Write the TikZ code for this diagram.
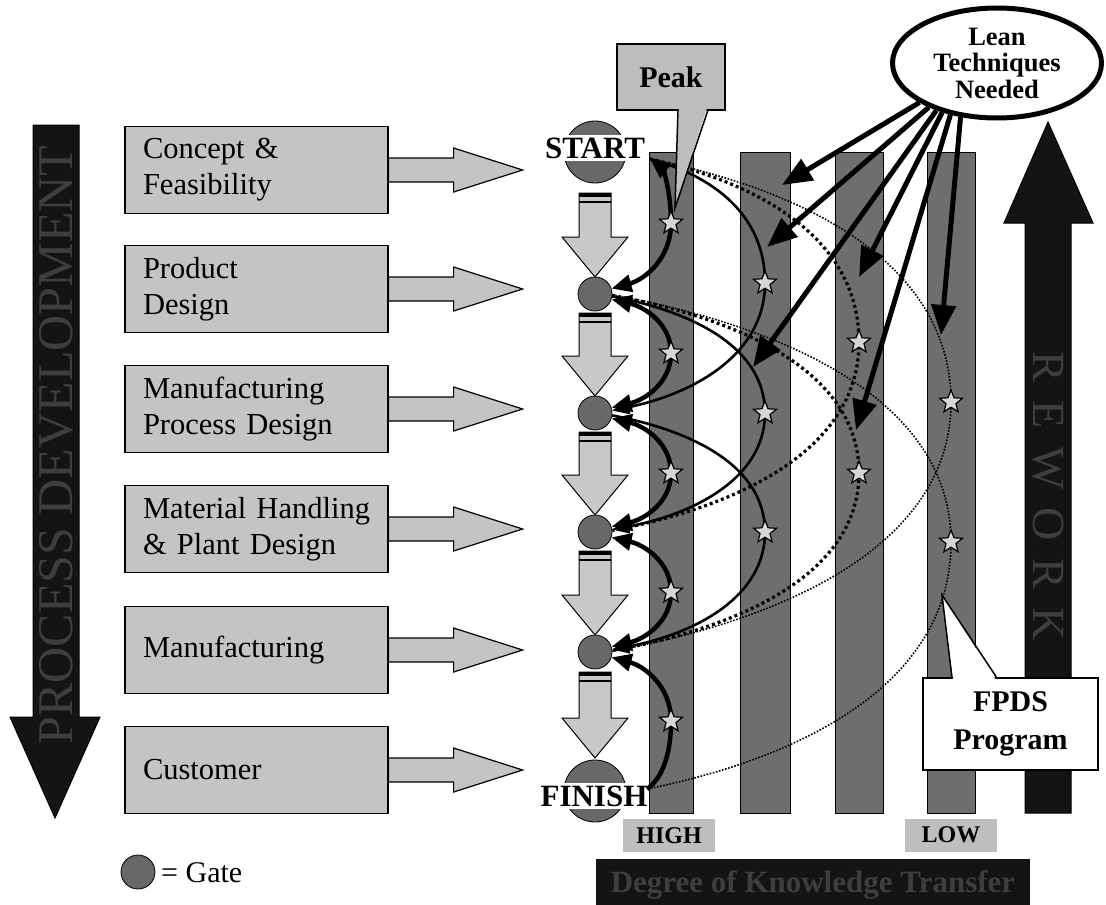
\documentclass[tikz,border=0pt]{standalone}
\usepackage{fontspec}
\setmainfont{Liberation Serif}
\usetikzlibrary{calc,arrows.meta,shapes.geometric}

\definecolor{boxgray}{HTML}{C4C4C4}
\definecolor{flowgray}{HTML}{C8C8C8}
\definecolor{bargray}{HTML}{6E6E6E}
\definecolor{gategray}{HTML}{686868}
\definecolor{stargray}{HTML}{D6D6D6}
\definecolor{inkblack}{HTML}{141414}
\definecolor{ghost}{HTML}{3E3E3E}
\definecolor{tagray}{HTML}{BEBEBE}
\definecolor{peakgray}{HTML}{BDBDBD}

\tikzset{
  phase/.style={draw=black, line width=1.2pt, fill=boxgray, minimum width=263pt,
    minimum height=87pt, text width=227pt, inner xsep=18pt, inner ysep=0pt,
    align=left, font=\fontsize{30.5}{36}\selectfont},
  phasearrow/.style={draw=black, line width=1.2pt, fill=boxgray},
  flowblock/.style={draw=black, line width=1pt, fill=flowgray},
  gate/.style={circle, draw=black, line width=0.8pt, fill=gategray,
    minimum size=34pt, inner sep=0pt},
  endcircle/.style={circle, draw=black, line width=0.8pt, fill=gategray,
    minimum size=62pt, inner sep=0pt},
  endlabel/.style={fill=white, inner xsep=1pt, inner ysep=3pt,
    font=\bfseries\fontsize{31}{31}\selectfont},
  kbar/.style={draw=black, line width=1pt, fill=bargray, minimum width=44pt,
    minimum height=661pt, anchor=north, inner sep=0pt},
  kstar/.style={star, star points=5, star point ratio=2.3, draw=black,
    line width=1.2pt, fill=stargray, minimum size=24pt, inner sep=0pt},
  thickarc/.style={line width=4.5pt},
  medarc/.style={line width=2.6pt, >={Triangle[length=17pt,width=14pt]}},
  dotarc/.style={line width=3.2pt, dash pattern=on 3pt off 3pt},
  finedot/.style={line width=1.6pt, dash pattern=on 1.6pt off 1.6pt},
  leanarrow/.style={line width=5pt, -{Triangle[length=30pt,width=24pt]}},
  tag/.style={fill=tagray, minimum width=92pt, minimum height=33pt,
    font=\bfseries\fontsize{24}{24}\selectfont},
}

% block arrow from a phase box to the gate column
\newcommand\phaseto[1]{%
  \draw[phasearrow] ($(#1.east)+(0,-12)$) -- ++(65,0) -- ++(0,-10) -- ++(69,22)
    -- ++(-69,22) -- ++(0,-10) -- ++(-65,0) -- cycle;}

% striped down arrow between two gates: top y, tip y
\newcommand\flowarrow[2]{%
  \draw[flowblock] (579,#1) -- (611,#1) -- (611,{#2-40}) -- (628,{#2-40})
    -- (595,#2) -- (562,{#2-40}) -- (579,{#2-40}) -- cycle;
  \fill[black] (579,#1) rectangle (611,{#1+3.5});
  \fill[black] (579,{#1+7.5}) rectangle (611,{#1+10});}

% knowledge-transfer curve: start, turning point (star), end
\newcommand\karc[4][]{%
  \path (#3.center|-#2) coordinate (kca) (#3.center|-#4) coordinate (kcb);
  \draw[#1] (#2) .. controls ($(#2)!0.55!($(kca)!0.25!(#3.center)$)$)
      and ($(#3.center)!0.55!(kca)$) .. (#3.center)
    .. controls ($(#3.center)!0.55!(kcb)$)
      and ($(#4)!0.55!($(kcb)!0.25!(#3.center)$)$) .. (#4);}

\begin{document}
\begin{tikzpicture}[x=1pt, y=-1pt, >={Triangle[length=20pt,width=17pt]}]
\useasboundingbox (0,0) rectangle (1106,905);

% process development arrow
\draw[fill=inkblack, draw=black, line width=1pt] (33,125) -- (79,125) -- (79,717)
  -- (100,717) -- (55,818) -- (10,717) -- (33,717) -- cycle;
\node[rotate=90, text=ghost, font=\fontsize{50}{50}\selectfont, inner sep=0pt]
  (pdev) at (56,445) {PROCESS DEVELOPMENT};

% phases
\node[phase] (ph1) at (256.5,170) {Concept \&\\Feasibility};
\node[phase] (ph2) at (256.5,289) {Product\\Design};
\node[phase] (ph3) at (256.5,409) {Manufacturing\\Process Design};
\node[phase] (ph4) at (256.5,529) {Material Handling\\\& Plant Design};
\node[phase] (ph5) at (256.5,650) {Manufacturing};
\node[phase] (ph6) at (256.5,770) {Customer};
\phaseto{ph1}\phaseto{ph2}\phaseto{ph3}\phaseto{ph4}\phaseto{ph5}\phaseto{ph6}

% knowledge transfer bars
\node[kbar] (bar1) at (671,152) {};
\node[kbar, minimum width=50pt] (bar2) at (765,152) {};
\node[kbar, minimum width=48pt] (bar3) at (859,152) {};
\node[kbar, minimum width=48pt] (bar4) at (951,152) {};

% rework arrow
\draw[fill=inkblack, draw=black, line width=1pt] (1025,813) -- (1025,223) -- (1004,223)
  -- (1048,122) -- (1093,223) -- (1071,223) -- (1071,813) -- cycle;
\node[rotate=-90, text=ghost, font=\fontsize{46}{46}\selectfont, inner sep=0pt]
  (rework) at (1048,496) {R\hspace{18pt}E\hspace{18pt}W\hspace{18pt}O\hspace{18pt}R\hspace{18pt}K};

% scale labels
\node[tag] (high) at (669,835.5) {HIGH};
\node[tag] (low) at (951,835) {LOW};
\node[fill=inkblack, minimum width=434pt, minimum height=52pt, inner sep=0pt,
  text=ghost, font=\bfseries\fontsize{31}{31}\selectfont] (dkt) at (813,885)
  {Degree of Knowledge Transfer};

% gate column
\flowarrow{193}{277}
\flowarrow{313}{396}
\flowarrow{432}{515}
\flowarrow{551}{635}
\flowarrow{672}{758}
\node[endcircle] (startc) at (595,152) {};
\node[endlabel] (start) at (595,148) {START};
\node[gate] (g1) at (595,294) {};
\node[gate] (g2) at (595,413) {};
\node[gate] (g3) at (595,532) {};
\node[gate] (g4) at (595,652) {};
\node[endcircle] (finc) at (595,791) {};
\node[endlabel] (finish) at (594,796) {FINISH};
\coordinate (startr) at (650,159);
\coordinate (finr) at (647,789);

% turning points of the curves
\coordinate (s11) at (671,223);
\coordinate (s12) at (671,353);
\coordinate (s13) at (671,473);
\coordinate (s14) at (671,592);
\coordinate (s15) at (671,721);
\coordinate (s21) at (765,283);
\coordinate (s22) at (765,413);
\coordinate (s23) at (765,532);
\coordinate (s31) at (859,342);
\coordinate (s32) at (859,473);
\coordinate (s41) at (951,402);
\coordinate (s42) at (951,542);

% lowest transfer
\karc[finedot]{startr}{s41}{g4.3}
\karc[finedot]{g1.-3}{s42}{finr}
% low transfer
\karc[dotarc]{startr}{s31}{g3.5}
\karc[dotarc]{g1.-5}{s32}{g4.5}
% medium transfer
\karc[medarc,->]{startr}{s21}{g2.8}
\karc[medarc,->]{g1.-8}{s22}{g3.8}
\karc[medarc,->]{g2.-8}{s23}{g4.8}
% high transfer
\karc[thickarc,<->]{startr}{s11}{g1.18}
\karc[thickarc,<->]{g1.-18}{s12}{g2.18}
\karc[thickarc,<->]{g2.-18}{s13}{g3.18}
\karc[thickarc,<->]{g3.-18}{s14}{g4.18}
\karc[thickarc,<-]{g4.-18}{s15}{finr}

\foreach \s in {s11,s12,s13,s14,s15,s21,s22,s23,s31,s32,s41,s42}
  \node[kstar] (\s-mark) at (\s) {};

% lean techniques
\node[ellipse, draw=black, line width=5pt, fill=white, minimum width=209pt,
  minimum height=110pt, inner sep=0pt, align=center,
  font=\bfseries\fontsize{26.5}{26.5}\selectfont] (lean) at (997,63)
  {Lean\\Techniques\\Needed};
\coordinate (ta) at (782,185);
\coordinate (tb) at (767,247);
\coordinate (tc) at (859,277);
\coordinate (td) at (753,367);
\coordinate (te) at (856,430);
\coordinate (tf) at (941,335);
\draw[leanarrow] (lean.207) -- (ta);
\draw[leanarrow] (lean.213) -- (tb);
\draw[leanarrow] (lean.222) -- (tc);
\draw[leanarrow] (lean.218) -- (td);
\draw[leanarrow] (lean.228) -- (te);
\draw[leanarrow] (lean.236) -- (tf);

% peak callout
\node[draw=black, line width=1.5pt, fill=peakgray, minimum width=108pt,
  minimum height=66pt, font=\bfseries\fontsize{30}{30}\selectfont] (peak) at (671,77) {Peak};
\coordinate (peaktip) at ($(s11)+(4,-15)$);
\fill[peakgray] (679,108) -- (peaktip) -- (707,108) -- cycle;
\draw[line width=1.5pt, line join=miter] (678,110) -- (peaktip) -- (708,110);

% FPDS callout
\node[draw=black, line width=1.5pt, fill=white, minimum width=175pt,
  minimum height=92pt, align=center,
  font=\bfseries\fontsize{30}{38}\selectfont] (fpds) at (1010.5,724) {FPDS\\Program};
\coordinate (fpdstip) at (942,595);
\fill[white] (953,680) -- (fpdstip) -- (996,680) -- cycle;
\draw[line width=1.5pt] (952,678) -- (fpdstip) -- (997,678);

% legend
\node[gate] (legend) at (138,872) {};
\node[anchor=west, inner sep=2pt, font=\fontsize{30}{30}\selectfont] (legendtext)
  at (159,873) {= Gate};
\end{tikzpicture}
\end{document}
